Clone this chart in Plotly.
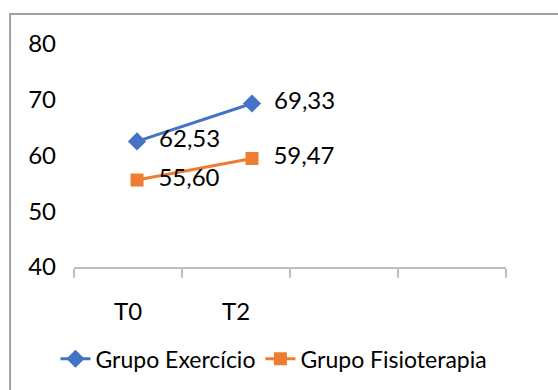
import plotly.graph_objects as go

# Time points on the category axis (two further slots are left empty)
categories = ["T0", "T2"]
n_slots = 4
ytick_values = [40, 50, 60, 70, 80]

exercicio = [62.53, 69.33]
fisioterapia = [55.60, 59.47]

BLUE = "#4472C4"
ORANGE = "#ED7D31"
FONT = "Lato"
FS = 24
PAD = "\u00a0\u00a0"


def fmt(v):
    return PAD + f"{v:.2f}".replace(".", ",")


idx = list(range(len(categories)))

fig = go.Figure()
# invisible carrier so the category axis is drawn
fig.add_trace(go.Scatter(x=idx, y=[None] * len(idx), showlegend=False,
                         hoverinfo="skip", mode="lines"))
fig.add_trace(go.Scatter(
    x=idx, y=exercicio, name="Grupo Exercício",
    mode="lines+markers+text",
    line=dict(color=BLUE, width=3),
    marker=dict(symbol="diamond", size=14, color=BLUE),
    text=[fmt(v) for v in exercicio], textposition="middle right",
    textfont=dict(family=FONT, size=FS, color="#000000"),
    xaxis="x2", cliponaxis=False,
))
fig.add_trace(go.Scatter(
    x=idx, y=fisioterapia, name="Grupo Fisioterapia",
    mode="lines+markers+text",
    line=dict(color=ORANGE, width=3),
    marker=dict(symbol="square", size=13, color=ORANGE),
    text=[fmt(v) for v in fisioterapia], textposition="middle right",
    textfont=dict(family=FONT, size=FS, color="#000000"),
    xaxis="x2", cliponaxis=False,
))

fig.update_layout(
    width=558, height=390,
    margin=dict(l=74, r=52, t=44, b=123, autoexpand=False),
    paper_bgcolor="white", plot_bgcolor="white",
    font=dict(family=FONT, size=FS, color="#000000"),
    showlegend=True,
    legend=dict(orientation="h", xref="container", yref="container",
                x=0.491, xanchor="center", y=0.08, yanchor="middle",
                font=dict(family=FONT, size=23, color="#000000"),
                itemwidth=30, tracegroupgap=0, bgcolor="rgba(0,0,0,0)"),
    xaxis=dict(
        range=[-0.5, n_slots - 0.5],
        tickmode="array", tickvals=idx, ticktext=categories,
        ticks="", showgrid=False, zeroline=False,
        showline=True, linecolor="#BFBFBF", linewidth=1.5,
        ticklabelstandoff=22,
        minor=dict(tickmode="linear", tick0=-0.5, dtick=1,
                   ticks="outside", ticklen=9, tickcolor="#BFBFBF",
                   tickwidth=1.5, showgrid=False),
    ),
    xaxis2=dict(
        overlaying="x", range=[-0.548, 3.209],
        visible=False, showgrid=False, zeroline=False,
    ),
    yaxis=dict(
        range=[40, 80], tickmode="array", tickvals=ytick_values,
        showgrid=False, zeroline=False, showline=False, ticks="",
        ticklabelstandoff=17,
    ),
    shapes=[dict(type="rect", xref="paper", yref="paper",
                 x0=-0.148, x1=1.3, y0=-0.8, y1=1.134,
                 line=dict(color="#A0A0A0", width=2), layer="below")],
)

fig.write_html("out.html")
